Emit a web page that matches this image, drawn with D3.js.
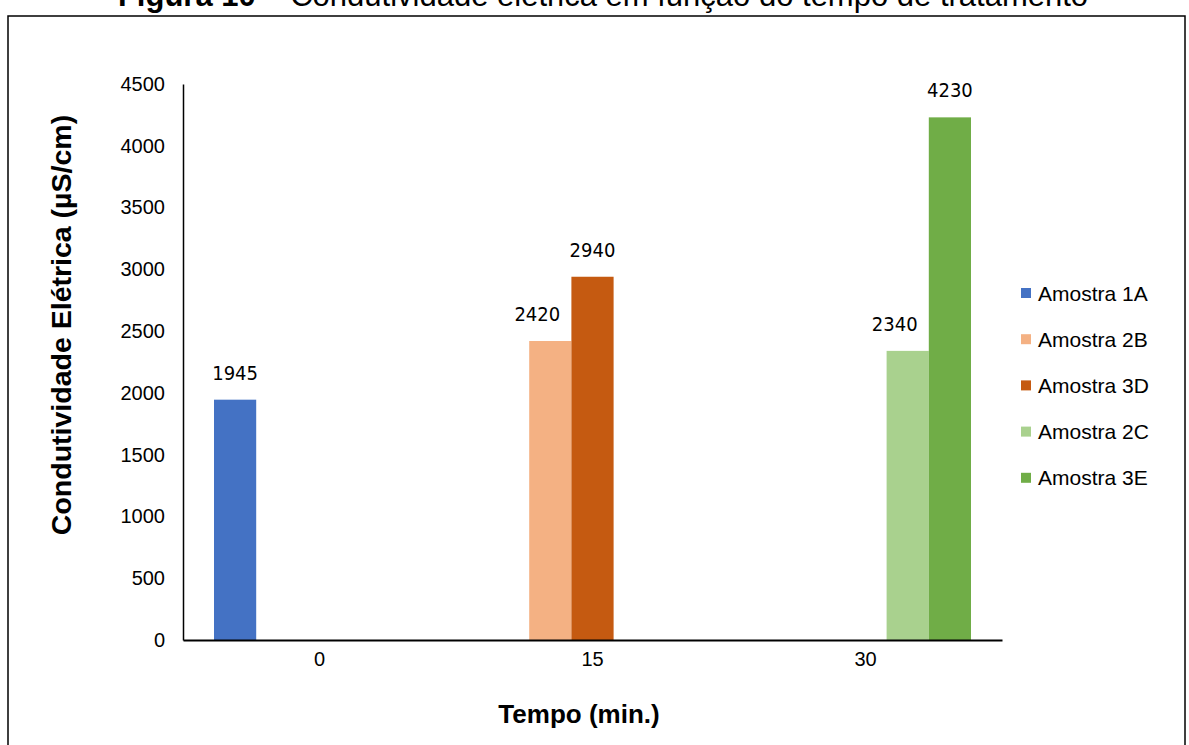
<!DOCTYPE html>
<html>
<head>
<meta charset="utf-8">
<script src="https://cdn.jsdelivr.net/npm/d3@7"></script>
<style>
  html, body { margin: 0; padding: 0; background: #fff; }
  svg { display: block; }
</style>
</head>
<body>
<svg id="chart" width="1189" height="745"></svg>
<script>
// Tempo de tratamento (min.)
const categories = ["0", "15", "30"];
// Amostras
const seriesNames = ["Amostra 1A", "Amostra 2B", "Amostra 3D", "Amostra 2C", "Amostra 3E"];
const seriesColors = ["#4472C4", "#F4B183", "#C55A11", "#A9D18E", "#70AD47"];
// Condutividade (µS/cm) por amostra, um valor por tempo (null = sem medição)
const amostra1A = [1945, null, null];
const amostra2B = [null, 2420, null];
const amostra3D = [null, 2940, null];
const amostra2C = [null, null, 2340];
const amostra3E = [null, null, 4230];
const yTickValues = [0, 500, 1000, 1500, 2000, 2500, 3000, 3500, 4000, 4500];

const seriesValues = [amostra1A, amostra2B, amostra3D, amostra2C, amostra3E];

const svg = d3.select("#chart");
const font = "'Liberation Sans', Arial, sans-serif";
const narrow = "'Liberation Sans Narrow', 'Arial Narrow', 'DejaVu Sans Condensed', sans-serif";

const plot = { left: 183, right: 1002, top: 84, bottom: 640 };

// Caption (runs off the top of the page)
const cap = svg.append("text")
  .attr("x", 603).attr("y", 6)
  .attr("text-anchor", "middle")
  .style("font-family", font).style("font-size", "31px").attr("fill", "#000");
cap.append("tspan").style("font-weight", "bold").text("Figura 10");
cap.append("tspan").text(" – Condutividade elétrica em função do tempo de tratamento");

// Frame around the chart
svg.append("rect")
  .attr("x", 8).attr("y", 16).attr("width", 1177).attr("height", 760)
  .attr("fill", "none").attr("stroke", "#000").attr("stroke-width", 1.5);

const x0 = d3.scaleBand().domain(categories).range([plot.left, plot.right]);
const gap = 31;
const x1 = d3.scaleBand().domain(seriesNames).range([gap, x0.bandwidth() - gap]);
const y = d3.scaleLinear().domain([0, 4500]).range([plot.bottom, plot.top]);
const color = d3.scaleOrdinal().domain(seriesNames).range(seriesColors);

// Flatten to bar records
const bars = [];
seriesNames.forEach((s, i) => {
  seriesValues[i].forEach((v, j) => {
    if (v != null) bars.push({ series: s, cat: categories[j], value: v, idx: i });
  });
});

svg.append("g").selectAll("rect").data(bars).join("rect")
  .attr("x", d => x0(d.cat) + x1(d.series))
  .attr("width", x1.bandwidth())
  .attr("y", d => y(d.value))
  .attr("height", d => y(0) - y(d.value))
  .attr("fill", d => color(d.series));

// Value labels; a label with a taller neighbour to its right is nudged left
const hasRightNeighbour = d => bars.some(b => b.cat === d.cat && b.idx === d.idx + 1);
svg.append("g").selectAll("text").data(bars).join("text")
  .attr("x", d => x0(d.cat) + x1(d.series) + x1.bandwidth() / 2 - (hasRightNeighbour(d) ? 13 : 0))
  .attr("y", d => y(d.value) - 20)
  .attr("text-anchor", "middle")
  .style("font-family", narrow).style("font-size", "20px").attr("fill", "#000")
  .text(d => d.value);

// Y axis
const yAxis = d3.axisLeft(y).tickValues(yTickValues).tickFormat(d3.format("d"))
  .tickSize(0).tickPadding(18);
const gy = svg.append("g").attr("transform", `translate(${plot.left},0)`).call(yAxis);
gy.select(".domain").attr("stroke", "#000").attr("stroke-width", 1.5);
gy.selectAll("text").style("font-family", font).style("font-size", "20px").attr("fill", "#000");

// X axis
const xAxis = d3.axisBottom(x0).tickSize(0).tickPadding(12);
const gx = svg.append("g").attr("transform", `translate(0,${plot.bottom})`).call(xAxis);
gx.select(".domain").attr("stroke", "#000").attr("stroke-width", 2);
gx.selectAll("text").style("font-family", font).style("font-size", "20px").attr("fill", "#000");

// Axis titles
svg.append("text")
  .attr("x", 579).attr("y", 723)
  .attr("text-anchor", "middle")
  .style("font-family", font).style("font-size", "26px").style("font-weight", "bold")
  .text("Tempo (min.)");

svg.append("text")
  .attr("transform", "translate(71,325) rotate(-90)")
  .attr("text-anchor", "middle")
  .style("font-family", font).style("font-size", "28.5px").style("font-weight", "bold")
  .text("Condutividade Elétrica (µS/cm)");

// Legend
const legend = svg.append("g").selectAll("g").data(seriesNames).join("g")
  .attr("transform", (d, i) => `translate(1021,${293 + i * 46.2})`);
legend.append("rect")
  .attr("x", 0).attr("y", -5).attr("width", 10).attr("height", 10)
  .attr("fill", d => color(d));
legend.append("text")
  .attr("x", 17).attr("y", 7.5)
  .style("font-family", font).style("font-size", "21px").attr("fill", "#000")
  .text(d => d);
</script>
</body>
</html>
